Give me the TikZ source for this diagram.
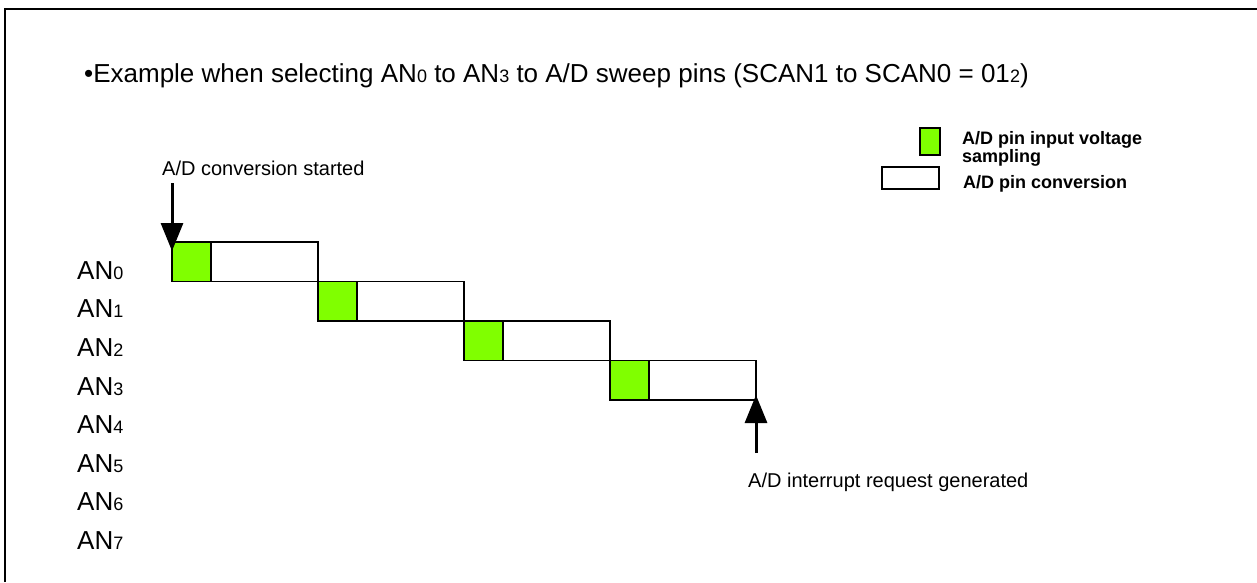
\documentclass[tikz,border=0pt]{standalone}
\usepackage{fontspec}
\setmainfont{Liberation Sans}
\usetikzlibrary{arrows.meta}
\definecolor{sampgreen}{RGB}{128,255,0}
\newcommand{\fs}[1]{\fontsize{#1}{#1}\selectfont}
\newcommand{\sbx}[2]{{\fs{#1}#2}}
\begin{document}
\begin{tikzpicture}[x=1pt,y=-1pt,
  lbl/.style={inner sep=0pt,anchor=base west,font=\fs{26}},
  txt/.style={inner sep=0pt,anchor=base west,font=\fs{20}},
  legtxt/.style={inner sep=0pt,anchor=base west,font=\fs{18}\bfseries,align=left},
  convbox/.style={draw=black,line width=1.6pt,fill=white,minimum width=146pt,minimum height=39.5pt,inner sep=0pt,outer sep=0pt,anchor=north west},
  sampbox/.style={draw=black,line width=1.6pt,fill=sampgreen,minimum width=39pt,minimum height=39.5pt,inner sep=0pt,outer sep=0pt,anchor=north west},
  bigarrow/.style={line width=3pt,-{Triangle[width=22pt,length=28pt]}}]
\useasboundingbox (0,0) rectangle (1257,582);
\fill[white] (0,0) rectangle (1257,582);
% frame
\draw[line width=2.5pt] (5,582) -- (5,9) -- (1257,9);
% title
\node[lbl] (title) at (84,82) {•Example when selecting AN\sbx{18}{0} to AN\sbx{18}{3} to A/D sweep pins (SCAN1 to SCAN0 = 01\sbx{18}{2})};
% legend
\node[sampbox,minimum width=20pt,minimum height=27pt] (legs) at (920,128) {};
\node[convbox,minimum width=57pt,minimum height=22pt] (legc) at (882,167) {};
\node[legtxt] (legst) at (962,144) {A/D pin input voltage};
\node[legtxt] (legst2) at (962,162.5) {sampling};
\node[legtxt] (legct) at (963,188) {A/D pin conversion};
% AN labels
\foreach \i/\y in {0/279,1/317,2/356,3/395,4/433,5/472,6/510,7/549}{
  \node[lbl] (an\i) at (77,\y) {AN\sbx{18}{\i}};
}
% bars
\foreach \i/\x/\y in {0/172/242,1/318/281.5,2/464/321,3/610/360.5}{
  \node[convbox] (conv\i) at (\x,\y) {};
  \node[sampbox] (samp\i) at (\x,\y) {};
}
% start arrow
\node[txt] (start) at (162,175) {A/D conversion started};
\coordinate (startfrom) at (172,183);
\draw[bigarrow] (startfrom) -- ([yshift=-9pt]conv0.north west);
% end arrow
\node[txt] (endtxt) at (748,487) {A/D interrupt request generated};
\coordinate (endfrom) at (756,453);
\draw[bigarrow] (endfrom) -- ([yshift=5pt]conv3.south east);
\end{tikzpicture}
\end{document}
